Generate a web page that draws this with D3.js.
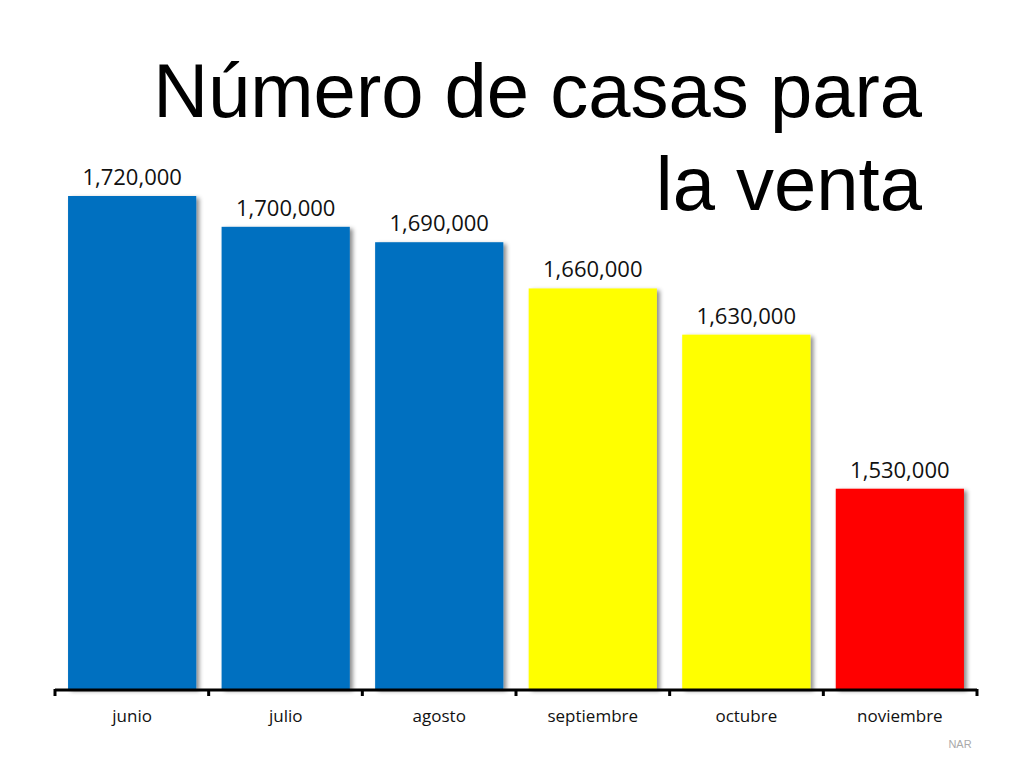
<!DOCTYPE html>
<html><head><meta charset="utf-8">
<script src="https://cdn.jsdelivr.net/npm/d3@7"></script>
<style>body{margin:0;background:#fff}svg{display:block}</style>
</head><body>
<svg id="c" width="1024" height="768"></svg>
<script>
const categories = ["junio","julio","agosto","septiembre","octubre","noviembre"];
const values = [1720000,1700000,1690000,1660000,1630000,1530000];
const barColors = ["#0070C0","#0070C0","#0070C0","#FFFF00","#FFFF00","#FF0000"];
const titleLines = ["Número de casas para","la venta"];
const sourceText = "NAR";

const svg = d3.select("#c");
const defs = svg.append("defs");
const f = defs.append("filter").attr("id","sh").attr("x","-10%").attr("y","-10%").attr("width","130%").attr("height","130%");
f.append("feDropShadow").attr("dx",3).attr("dy",2).attr("stdDeviation",2).attr("flood-color","#000").attr("flood-opacity",0.45);

const x = d3.scaleBand().domain(categories).range([55,977]).paddingInner(0.165).paddingOuter(0.085);
const y = d3.scaleLinear().domain([1400000,1720000]).range([689,196]);

svg.append("g").selectAll("rect").data(values).join("rect")
  .attr("x",(d,i)=>x(categories[i])).attr("width",x.bandwidth())
  .attr("y",d=>y(d)).attr("height",d=>y.range()[0]-y(d))
  .attr("fill",(d,i)=>barColors[i]).attr("filter","url(#sh)");

const fmt = d3.format(",");
svg.append("g").selectAll("text").data(values).join("text")
  .attr("x",(d,i)=>x(categories[i])+x.bandwidth()/2).attr("y",d=>y(d)-11)
  .attr("text-anchor","middle").attr("font-family","Open Sans, Lato, sans-serif")
  .attr("font-size",22).attr("fill","#111").text(d=>fmt(d));

// axis
const ax = svg.append("g").attr("transform","translate(0,690)");
const edges = d3.range(categories.length+1).map(i=>55+i*((977-55)/categories.length));
ax.append("line").attr("x1",55).attr("x2",977).attr("y1",0).attr("y2",0).attr("stroke","#000").attr("stroke-width",3);
ax.selectAll(".tk").data(edges).join("line").attr("class","tk")
  .attr("x1",d=>d).attr("x2",d=>d).attr("y1",-1).attr("y2",6).attr("stroke","#000").attr("stroke-width",3);
ax.selectAll("text").data(categories).join("text")
  .attr("x",d=>x(d)+x.bandwidth()/2).attr("y",32)
  .attr("text-anchor","middle").attr("font-family","Open Sans, Lato, sans-serif")
  .attr("font-size",17).attr("fill","#111").text(d=>d);

const t = svg.append("text").attr("text-anchor","end").attr("font-family","Liberation Sans, Arial, sans-serif")
  .attr("font-size",76).attr("fill","#000");
titleLines.forEach((l,i)=>t.append("tspan").attr("x",922).attr("y",117+i*93).text(l));

svg.append("text").attr("x",960).attr("y",748).attr("text-anchor","middle")
  .attr("font-family","Liberation Sans, Arial, sans-serif").attr("font-size",11).attr("fill","#aaa").text(sourceText);
</script>
</body></html>
